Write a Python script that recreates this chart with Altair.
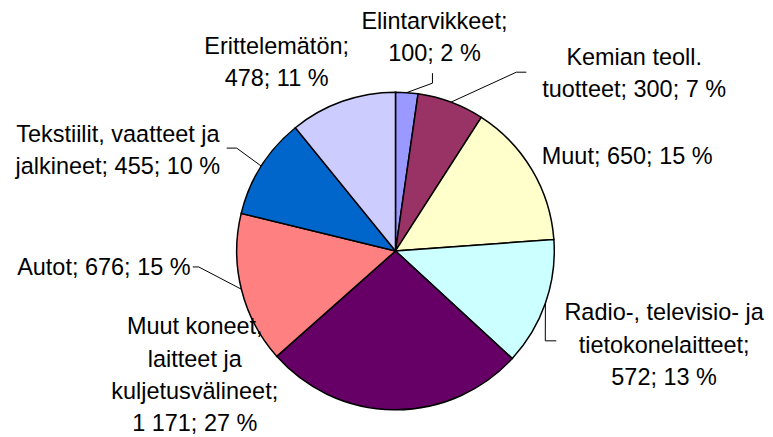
import math
import altair as alt
import pandas as pd

# ---- data ----
categories = [
    "Elintarvikkeet",
    "Kemian teoll. tuotteet",
    "Muut",
    "Radio-, televisio- ja tietokonelaitteet",
    "Muut koneet, laitteet ja kuljetusvälineet",
    "Autot",
    "Tekstiilit, vaatteet ja jalkineet",
    "Erittelemätön",
]
values = [100, 300, 650, 572, 1171, 676, 455, 478]
label_texts = [
    "Elintarvikkeet;\n100; 2 %",
    "Kemian teoll.\ntuotteet; 300; 7 %",
    "Muut; 650; 15 %",
    "Radio-, televisio- ja\ntietokonelaitteet;\n572; 13 %",
    "Muut koneet,\nlaitteet ja\nkuljetusvälineet;\n1 171; 27 %",
    "Autot; 676; 15 %",
    "Tekstiilit, vaatteet ja\njalkineet; 455; 10 %",
    "Erittelemätön;\n478; 11 %",
]
colors = ["#9999FF", "#993366", "#FFFFCC", "#CCFFFF",
          "#660066", "#FF8080", "#0066CC", "#CCCCFF"]

# ---- layout (label placement, relative to pie centre) ----
W, H = 740, 360
CX, CY = W / 2, H / 2
R = 159
LINE_H = 32.5
label_dx = [39, 239, 232, 269, -201, -292, -278, -119]
label_dy = [-213, -177, -94, 95, 125, 17, -100, -188]
# leader line elbow / end points relative to centre (None = no leader)
leader_pts = [
    [(37, -168), (37, -178)],
    [(121, -179), (131, -179)],
    None,
    [(150, 90), (161, 90)],
    None,
    [(-197, 16), (-203, 16)],
    [(-159, -103), (-169, -103)],
    None,
]

total = sum(values)
n_lines = [t.count("\n") + 1 for t in label_texts]
df = pd.DataFrame({
    "category": categories,
    "value": values,
    "order": list(range(len(values))),
    "label": label_texts,
    "lx": [CX + d for d in label_dx],
    "ly": [CY + d - (n - 1) * LINE_H / 2 for d, n in zip(label_dy, n_lines)],
})

rows = []
cum = 0
for i, v in enumerate(values):
    mid = (cum + v / 2) / total * 2 * math.pi
    cum += v
    if leader_pts[i] is None:
        continue
    pts = [(R * math.sin(mid), -R * math.cos(mid))] + leader_pts[i]
    for j, (px, py) in enumerate(pts):
        rows.append({"category": categories[i], "seq": j, "x": CX + px, "y": CY + py})
leaders = pd.DataFrame(rows)

pie = alt.Chart(df).mark_arc(outerRadius=R, stroke="black", strokeWidth=1.5).encode(
    theta=alt.Theta("value:Q", stack=True),
    order=alt.Order("order:Q"),
    color=alt.Color("category:N", scale=alt.Scale(domain=categories, range=colors), legend=None),
)

labels = alt.Chart(df).mark_text(
    font="Liberation Sans", fontSize=23.5, lineBreak="\n", lineHeight=LINE_H,
    align="center", baseline="middle", color="black",
).encode(
    x=alt.X("lx:Q", scale=None),
    y=alt.Y("ly:Q", scale=None),
    text="label:N",
)

lines = alt.Chart(leaders).mark_line(color="black", strokeWidth=1).encode(
    x=alt.X("x:Q", scale=None),
    y=alt.Y("y:Q", scale=None),
    detail="category:N",
    order="seq:Q",
)

chart = alt.layer(pie, lines, labels).properties(
    width=W, height=H,
    autosize=alt.AutoSizeParams(type="none"),
    padding={"left": 18, "top": 63, "right": 0, "bottom": 6},
    background="white",
).configure_view(stroke=None)

chart.save("out.html", embed_options={"renderer": "svg", "actions": False})
